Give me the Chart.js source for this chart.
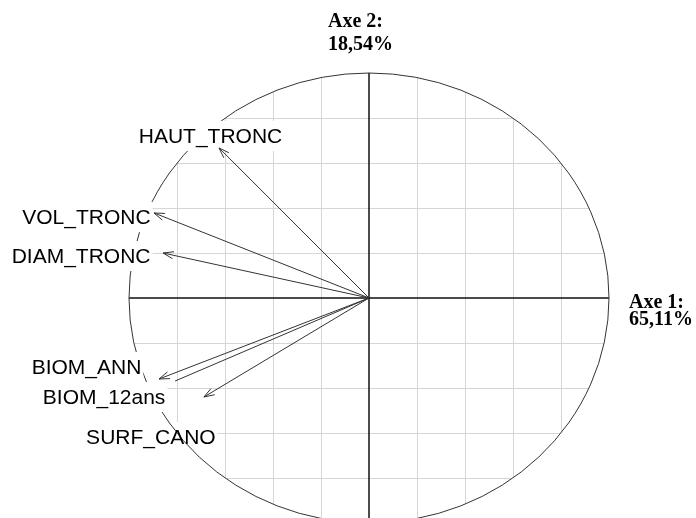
<!DOCTYPE html>
<html>
<head>
<meta charset="utf-8">
<script src="https://cdn.jsdelivr.net/npm/chart.js@4"></script>
<style>
  html, body { margin: 0; padding: 0; background: #fff; overflow: hidden; }
</style>
</head>
<body>
<canvas id="cercle" width="696" height="528"></canvas>
<script>
// variables of the correlation circle and their coordinates on the two axes
const variables = ["HAUT_TRONC", "VOL_TRONC", "DIAM_TRONC", "BIOM_ANN", "BIOM_12ans", "SURF_CANO"];
const axe1 = [-0.625, -0.896, -0.858, -0.875, -0.808, -0.688];
const axe2 = [0.667, 0.378, 0.2, -0.36, -0.369, -0.44];

// grid ticks
const gridTicks = [-0.8, -0.6, -0.4, -0.2, 0.2, 0.4, 0.6, 0.8];

// axis titles
const axe1Title = ["Axe 1:", "65,11%"];
const axe2Title = ["Axe 2:", "18,54%"];

// label placement (pixel offset of label centre from arrow tip), kept apart from the data
const labelOffsets = [[-8.5, -12], [-67.5, 4], [-82, 3], [-72.5, -12], [-71, 16], [-53, 40]];
const labelOverCircle = [true, true, true, true, true, false];
const showHead = [true, true, true, true, false, true];

const LABEL_FONT = "21px 'Liberation Sans', Arial, sans-serif";
const TITLE_FONT = "bold 20px 'Liberation Serif', 'Times New Roman', serif";

function geometry(chart) {
  const xs = chart.scales.x;
  const ys = chart.scales.y;
  const cx = xs.getPixelForValue(0);
  const cy = ys.getPixelForValue(0);
  return { xs, ys, cx, cy, rx: xs.getPixelForValue(1) - cx, ry: cy - ys.getPixelForValue(1) };
}

function labelBox(ctx, chart, i) {
  const meta = chart.getDatasetMeta(i);
  const tip = meta.data[1];
  ctx.font = LABEL_FONT;
  const w = ctx.measureText(variables[i]).width;
  const x = tip.x + labelOffsets[i][0];
  const y = tip.y + labelOffsets[i][1];
  return { x, y, w };
}

function drawBoxes(ctx, chart, over) {
  variables.forEach((name, i) => {
    if (labelOverCircle[i] !== over) return;
    const b = labelBox(ctx, chart, i);
    ctx.fillStyle = "#fff";
    ctx.fillRect(b.x - b.w / 2 - 2, b.y - 15, b.w + 4, 30);
  });
}

const circlePlugin = {
  id: "circlePlugin",
  beforeDatasetsDraw(chart) {
    const ctx = chart.ctx;
    const g = geometry(chart);
    const area = chart.chartArea;

    ctx.save();
    ctx.beginPath();
    ctx.ellipse(g.cx, g.cy, g.rx, g.ry, 0, 0, Math.PI * 2);
    ctx.clip();

    ctx.strokeStyle = "#d6d6d6";
    ctx.lineWidth = 1;
    gridTicks.forEach((v) => {
      const px = Math.round(g.xs.getPixelForValue(v)) + 0.5;
      const py = Math.round(g.ys.getPixelForValue(v)) + 0.5;
      ctx.beginPath();
      ctx.moveTo(px, area.top);
      ctx.lineTo(px, area.bottom);
      ctx.moveTo(area.left, py);
      ctx.lineTo(area.right, py);
      ctx.stroke();
    });

    ctx.strokeStyle = "#111";
    ctx.lineWidth = 1.5;
    ctx.beginPath();
    ctx.moveTo(g.cx, area.top);
    ctx.lineTo(g.cx, area.bottom);
    ctx.moveTo(area.left, g.cy);
    ctx.lineTo(area.right, g.cy);
    ctx.stroke();
    ctx.restore();

    drawBoxes(ctx, chart, false);

    ctx.save();
    ctx.strokeStyle = "#333";
    ctx.lineWidth = 1;
    ctx.beginPath();
    ctx.ellipse(g.cx, g.cy, g.rx, g.ry, 0, 0, Math.PI * 2);
    ctx.stroke();
    ctx.restore();

    drawBoxes(ctx, chart, true);
  },
  afterDatasetsDraw(chart) {
    const ctx = chart.ctx;
    const g = geometry(chart);

    // arrow heads
    ctx.save();
    ctx.strokeStyle = "#333";
    ctx.lineWidth = 1;
    variables.forEach((name, i) => {
      if (!showHead[i]) return;
      const meta = chart.getDatasetMeta(i);
      const p0 = meta.data[0];
      const p1 = meta.data[1];
      const a = Math.atan2(p1.y - p0.y, p1.x - p0.x);
      const len = 11;
      const spread = 0.33;
      ctx.beginPath();
      ctx.moveTo(p1.x - len * Math.cos(a - spread), p1.y - len * Math.sin(a - spread));
      ctx.lineTo(p1.x, p1.y);
      ctx.lineTo(p1.x - len * Math.cos(a + spread), p1.y - len * Math.sin(a + spread));
      ctx.stroke();
    });
    ctx.restore();

    // variable labels
    ctx.save();
    ctx.fillStyle = "#000";
    ctx.textAlign = "center";
    ctx.textBaseline = "middle";
    variables.forEach((name, i) => {
      const b = labelBox(ctx, chart, i);
      ctx.fillText(name, b.x, b.y + 1);
    });

    // axis titles
    ctx.font = TITLE_FONT;
    ctx.textAlign = "left";
    ctx.fillText(axe2Title[0], g.cx - 41, 22);
    ctx.fillText(axe2Title[1], g.cx - 41, 45);
    ctx.fillText(axe1Title[0], g.xs.right + 20, 303);
    ctx.fillText(axe1Title[1], g.xs.right + 20, 320);
    ctx.restore();
  }
};

function makeCircle() {
  const target = document.getElementById("cercle").getContext("2d");
  const datasets = variables.map((name, i) => ({
    label: name,
    data: [{ x: 0, y: 0 }, { x: axe1[i], y: axe2[i] }],
    showLine: true,
    borderColor: "#333",
    borderWidth: 1,
    pointRadius: 0,
    fill: false
  }));

  new Chart(target, {
    type: "scatter",
    data: { datasets: datasets },
    options: {
      responsive: false,
      animation: false,
      layout: { padding: { left: 129, right: 87, top: 73, bottom: 5 } },
      scales: {
        x: { type: "linear", min: -1, max: 1, display: false },
        y: { type: "linear", min: -1, max: 1, display: false }
      },
      plugins: {
        legend: { display: false },
        tooltip: { enabled: false }
      }
    },
    plugins: [circlePlugin]
  });
}

document.addEventListener("DOMContentLoaded", () => makeCircle());
</script>
</body>
</html>
